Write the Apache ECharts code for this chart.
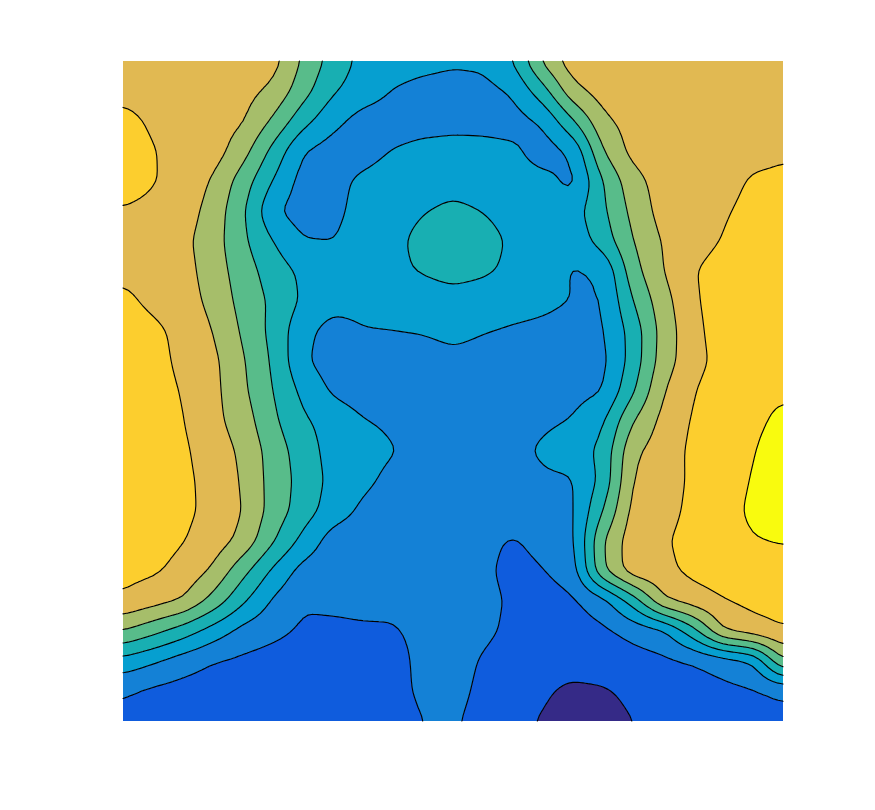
<!DOCTYPE html>
<html>
<head>
<meta charset="utf-8">
<script src="https://cdn.jsdelivr.net/npm/echarts@6/dist/echarts.min.js"></script>
<style>
html,body{margin:0;padding:0;background:#ffffff;}
#chart{width:875px;height:810px;}
</style>
</head>
<body>
<div id="chart"></div>
<script>
// ---- grid coordinates (MATLAB-style column / row indices) ----
const xGrid = [1,2,3,4,5,6,7,8,9,10,11,12,13,14,15,16,17,18,19,20,21,22,23];
const yGrid = [23,22,21,20,19,18,17,16,15,14,13,12,11,10,9,8,7,6,5,4,3,2,1];

// ---- contour levels and band colours ----
const levels = [1,2,3,4,5,6,7,8,9];
const bandColors = ['#352A87','#0F5CDD','#1481D6','#069FD0','#18AFB2','#58BC8A','#A6BE6A','#E1B952','#FCCE2E','#F9FB0E'];

// ---- surface values, one row per y (top row first) ----
const row_y23 = [7.6,7.6,7.5,7.45,7.45,7.4,5.85,4.6,3.7,3.45,3.3,3.15,3.2,4.0,6.2,7.6,7.6,7.6,7.6,7.6,7.6,7.6,7.65];
const row_y22 = [7.7,7.6,7.5,7.45,7.35,6.8,5.4,4.1,3.5,2.95,2.7,2.6,2.7,3.1,4.6,6.7,7.45,7.5,7.55,7.55,7.6,7.65,7.7];
const row_y21 = [8.3,7.85,7.6,7.45,7.1,5.85,4.35,3.25,2.6,2.5,2.6,2.7,2.7,2.6,3.1,4.9,6.8,7.4,7.5,7.55,7.6,7.65,7.75];
const row_y20 = [8.5,8.05,7.65,7.5,6.4,4.7,3.0,2.55,2.6,3.05,3.3,3.35,3.3,3.2,2.5,3.15,6.0,7.35,7.5,7.55,7.6,7.75,7.9];
const row_y19 = [8.5,8.05,7.7,6.9,5.5,3.95,2.6,2.7,3.2,3.5,3.6,3.68,3.6,3.5,3.3,2.7,5.0,6.65,7.45,7.55,7.7,8.1,8.15];
const row_y18 = [7.9,7.75,7.5,6.6,5.15,3.15,2.5,2.75,3.35,3.6,3.95,4.2,3.98,3.65,3.5,3.6,4.8,6.3,7.4,7.6,7.9,8.25,8.4];
const row_y17 = [7.75,7.6,7.25,6.45,5.2,4.0,3.05,2.97,3.5,3.75,4.3,4.6,4.35,3.85,3.55,3.35,4.45,6.0,7.1,7.6,8.05,8.4,8.5];
const row_y16 = [7.8,7.7,7.4,6.5,5.5,4.5,3.8,3.6,3.65,3.8,4.08,4.35,4.15,3.8,3.5,2.9,3.1,5.6,7.0,7.95,8.4,8.5,8.6];
const row_y15 = [8.2,7.8,7.5,6.7,5.65,4.8,3.85,3.35,3.3,3.4,3.5,3.6,3.5,3.35,3.2,2.97,2.95,5.0,6.6,7.85,8.5,8.65,8.75];
const row_y14 = [8.5,8.2,7.75,7.0,5.85,4.7,3.3,2.6,2.95,3.0,3.08,3.3,3.05,2.9,2.8,2.65,2.9,4.4,6.4,7.7,8.5,8.7,8.85];
const row_y13 = [8.6,8.3,7.8,7.25,6.1,4.85,3.15,2.5,2.5,2.45,2.5,2.7,2.6,2.5,2.3,2.35,2.75,4.4,6.5,7.65,8.35,8.75,8.9];
const row_y12 = [8.6,8.35,7.95,7.3,6.2,5.0,3.75,2.85,2.55,2.5,2.45,2.5,2.5,2.5,2.55,2.7,2.95,4.85,6.95,7.95,8.55,8.85,8.9];
const row_y11 = [8.6,8.45,8.05,7.3,6.5,5.2,4.15,3.6,3.05,2.85,2.5,2.45,2.45,2.55,2.85,3.05,3.85,6.0,7.3,8.1,8.6,8.85,9.15];
const row_y10 = [8.6,8.5,8.15,7.55,6.8,5.55,4.5,3.6,3.35,3.05,2.7,2.45,2.5,2.75,3.15,3.45,4.3,6.8,7.5,8.2,8.65,8.95,9.4];
const row_y9  = [8.6,8.5,8.2,7.7,6.9,5.6,4.65,3.7,3.2,2.75,2.45,2.4,2.45,2.5,2.85,2.9,4.3,7.1,7.6,8.15,8.65,9.05,9.5];
const row_y8  = [8.55,8.45,8.2,7.75,7.0,5.6,4.5,3.5,2.8,2.5,2.4,2.4,2.45,2.5,2.6,2.85,5.0,7.35,7.7,8.2,8.7,9.15,9.5];
const row_y7  = [8.45,8.35,8.05,7.55,6.7,5.1,3.7,2.5,2.35,2.4,2.35,2.3,2.25,1.9,2.3,2.8,6.0,7.6,7.9,8.3,8.7,8.95,9.05];
const row_y6  = [8.3,8.15,7.7,6.85,5.3,3.8,2.6,2.35,2.3,2.3,2.3,2.25,2.2,1.7,1.95,2.55,5.9,7.6,7.75,8.25,8.5,8.6,8.65];
const row_y5  = [7.85,7.4,6.95,5.65,4.15,2.85,2.1,2.15,2.2,2.2,2.35,2.4,2.3,1.85,1.5,1.85,2.6,4.4,6.9,7.5,7.95,8.25,8.35];
const row_y4  = [6.0,5.3,4.5,3.55,2.65,2.25,1.85,1.85,1.9,1.92,2.25,2.4,2.25,1.75,1.4,1.55,1.8,2.3,2.75,4.6,7.05,7.6,7.95];
const row_y3  = [3.65,3.1,2.5,2.02,1.8,1.6,1.5,1.5,1.55,1.6,2.3,2.45,1.9,1.4,1.25,1.3,1.45,1.6,1.8,2.02,2.4,3.0,6.0];
const row_y2  = [2.1,1.8,1.6,1.45,1.35,1.3,1.25,1.25,1.3,1.65,2.2,2.35,1.75,1.3,1.1,0.85,0.9,1.2,1.45,1.6,1.75,1.9,2.15];
const row_y1  = [1.75,1.55,1.4,1.3,1.2,1.15,1.1,1.1,1.2,1.45,2.02,2.15,1.6,1.15,0.95,0.6,0.65,1.0,1.25,1.4,1.5,1.6,1.75];

const Z = [row_y23,row_y22,row_y21,row_y20,row_y19,row_y18,row_y17,row_y16,row_y15,row_y14,row_y13,row_y12,
           row_y11,row_y10,row_y9,row_y8,row_y7,row_y6,row_y5,row_y4,row_y3,row_y2,row_y1];

// ---------------- contour computation (in data space) ----------------
const F = 6;
const NX = xGrid.length, NY = yGrid.length;
const FX = (NX - 1) * F + 1, FY = (NY - 1) * F + 1;
let fine = new Float64Array(FX * FY);
for (let fj = 0; fj < FY; fj++) {
  const gj = fj / F; const j0 = Math.min(Math.floor(gj), NY - 2); const tj = gj - j0;
  for (let fi = 0; fi < FX; fi++) {
    const gi = fi / F; const i0 = Math.min(Math.floor(gi), NX - 2); const ti = gi - i0;
    fine[fj * FX + fi] = (1 - ti) * (1 - tj) * Z[j0][i0] + ti * (1 - tj) * Z[j0][i0 + 1]
      + (1 - ti) * tj * Z[j0 + 1][i0] + ti * tj * Z[j0 + 1][i0 + 1];
  }
}
// light smoothing of the rendered surface
for (let pass = 0; pass < 3; pass++) {
  const tmp = new Float64Array(FX * FY);
  for (let j = 0; j < FY; j++) for (let i = 0; i < FX; i++) {
    const l = fine[j * FX + Math.max(i - 1, 0)], r = fine[j * FX + Math.min(i + 1, FX - 1)];
    tmp[j * FX + i] = (l + 2 * fine[j * FX + i] + r) / 4;
  }
  for (let j = 0; j < FY; j++) for (let i = 0; i < FX; i++) {
    const u = tmp[Math.max(j - 1, 0) * FX + i], d = tmp[Math.min(j + 1, FY - 1) * FX + i];
    fine[j * FX + i] = (u + 2 * tmp[j * FX + i] + d) / 4;
  }
}
const fxv = fi => xGrid[0] + fi / F * (xGrid[1] - xGrid[0]);
const fyv = fj => yGrid[0] + fj / F * (yGrid[1] - yGrid[0]);
const nb = levels.length + 1;
function bandOf(v) { let b = 0; while (b < levels.length && v >= levels[b]) b++; return b; }
function lerpPt(p, q, val) { const t = (val - p.v) / (q.v - p.v); return { x: p.x + t * (q.x - p.x), y: p.y + t * (q.y - p.y), v: val }; }
function clipPoly(poly, val, above) {
  const out = []; const n = poly.length;
  for (let k = 0; k < n; k++) {
    const cur = poly[k], prev = poly[(k + n - 1) % n];
    const ci = above ? cur.v >= val : cur.v <= val;
    const pi = above ? prev.v >= val : prev.v <= val;
    if (ci) { if (!pi) out.push(lerpPt(prev, cur, val)); out.push(cur); }
    else if (pi) out.push(lerpPt(prev, cur, val));
  }
  return out;
}
const bandPolys = Array.from({ length: nb }, () => []);
const levelSegs = Array.from({ length: levels.length }, () => []);
function pushPoly(b, pts) { const a = []; for (const p of pts) a.push(p.x, p.y); bandPolys[b].push(a); }
function triSegs(tri) {
  for (let L = 0; L < levels.length; L++) {
    const lv = levels[L];
    const ab = tri.map(p => p.v >= lv);
    const cnt = ab.filter(Boolean).length;
    if (cnt === 0 || cnt === 3) continue;
    const pts = [];
    for (let k = 0; k < 3; k++) { const p = tri[k], q = tri[(k + 1) % 3]; if (ab[k] !== ab[(k + 1) % 3]) pts.push(lerpPt(p, q, lv)); }
    if (pts.length === 2) levelSegs[L].push([pts[0].x, pts[0].y, pts[1].x, pts[1].y]);
  }
}
for (let fj = 0; fj < FY - 1; fj++) {
  let runBand = -1, runStart = 0;
  const flush = (endI) => {
    if (runBand >= 0) bandPolys[runBand].push([fxv(runStart), fyv(fj), fxv(endI), fyv(fj), fxv(endI), fyv(fj + 1), fxv(runStart), fyv(fj + 1)]);
    runBand = -1;
  };
  for (let fi = 0; fi < FX - 1; fi++) {
    const A = { x: fxv(fi), y: fyv(fj), v: fine[fj * FX + fi] };
    const B = { x: fxv(fi + 1), y: fyv(fj), v: fine[fj * FX + fi + 1] };
    const C = { x: fxv(fi + 1), y: fyv(fj + 1), v: fine[(fj + 1) * FX + fi + 1] };
    const D = { x: fxv(fi), y: fyv(fj + 1), v: fine[(fj + 1) * FX + fi] };
    const bs = [bandOf(A.v), bandOf(B.v), bandOf(C.v), bandOf(D.v)];
    const bmin = Math.min(...bs), bmax = Math.max(...bs);
    if (bmin === bmax) {
      if (runBand === bmin) continue;
      flush(fi); runBand = bmin; runStart = fi; continue;
    }
    flush(fi);
    const tris = [[A, B, C], [A, C, D]];
    for (const tri of tris) {
      for (let b = bmin; b <= bmax; b++) {
        let poly = tri;
        if (b > 0) poly = clipPoly(poly, levels[b - 1], true);
        if (poly.length >= 3 && b < nb - 1) poly = clipPoly(poly, levels[b], false);
        if (poly.length >= 3) pushPoly(b, poly);
      }
      triSegs(tri);
    }
  }
  flush(FX - 1);
}

// ---------------- chart ----------------
const chart = echarts.init(document.getElementById('chart'), null, { renderer: 'canvas' });
chart.setOption({
  animation: false,
  backgroundColor: '#ffffff',
  grid: { left: 123, top: 61, width: 660, height: 660 },
  xAxis: { type: 'value', min: xGrid[0], max: xGrid[xGrid.length - 1], show: false },
  yAxis: { type: 'value', min: yGrid[yGrid.length - 1], max: yGrid[0], show: false },
  series: [
    {
      type: 'custom', coordinateSystem: 'cartesian2d', silent: true,
      data: bandColors.map((c, i) => [i, i]),
      renderItem: function (params, api) {
        const b = params.dataIndex;
        let d = '';
        for (const poly of bandPolys[b]) {
          for (let k = 0; k < poly.length; k += 2) {
            const p = api.coord([poly[k], poly[k + 1]]);
            d += (k === 0 ? 'M' : 'L') + p[0].toFixed(2) + ' ' + p[1].toFixed(2);
          }
          d += 'Z';
        }
        if (!d) return null;
        return { type: 'path', shape: { pathData: d }, style: { fill: bandColors[b], stroke: null } };
      }
    },
    {
      type: 'custom', coordinateSystem: 'cartesian2d', silent: true,
      data: levels.map((l, i) => [i, i]),
      renderItem: function (params, api) {
        const L = params.dataIndex;
        let d = '';
        for (const s of levelSegs[L]) {
          const p = api.coord([s[0], s[1]]), q = api.coord([s[2], s[3]]);
          d += 'M' + p[0].toFixed(2) + ' ' + p[1].toFixed(2) + 'L' + q[0].toFixed(2) + ' ' + q[1].toFixed(2);
        }
        if (!d) return null;
        return { type: 'path', shape: { pathData: d }, style: { fill: null, stroke: '#000000', lineWidth: 1.15, lineCap: 'round' } };
      }
    }
  ]
});
</script>
</body>
</html>
